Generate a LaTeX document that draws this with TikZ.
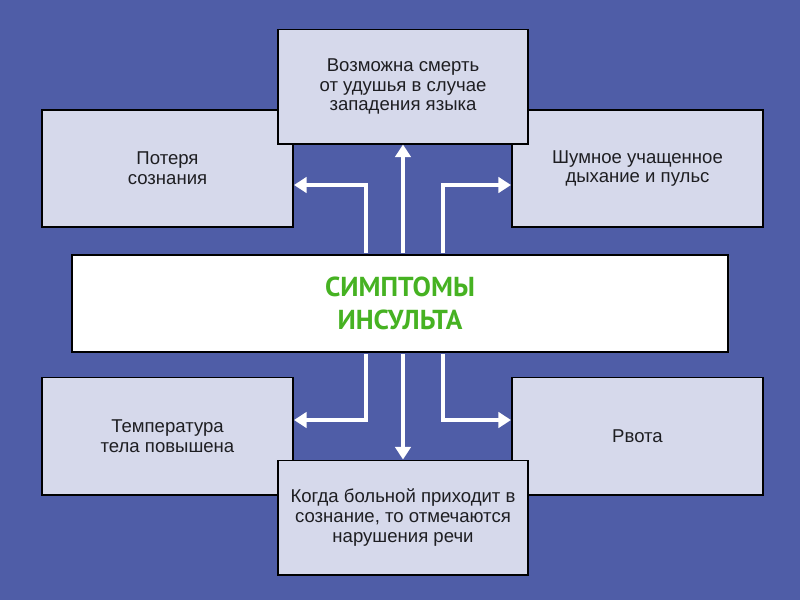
\documentclass[tikz,border=0pt]{standalone}
\usepackage{fontspec}
\setmainfont{Liberation Sans}
\newfontfamily\titlefont{PT Sans}
\usetikzlibrary{arrows.meta}
\usetikzlibrary{shadows}
\definecolor{bgblue}{RGB}{79,93,167}
\definecolor{boxfill}{RGB}{214,217,235}
\definecolor{titlegreen}{RGB}{70,178,34}
\definecolor{textgray}{RGB}{30,30,34}
\tikzstyle{symbox}=[draw=black, line width=1.4pt, fill=boxfill, align=center, text=textgray, inner sep=2pt,
  font=\fontsize{13.2}{14}\selectfont, drop shadow={shadow xshift=1pt, shadow yshift=-1pt, opacity=0.4}]
\tikzstyle{sidebox}=[symbox, minimum width=6.275cm, minimum height=2.925cm]
\tikzstyle{midbox}=[symbox, minimum width=6.25cm, minimum height=2.85cm]
\tikzstyle{mainbox}=[draw=black, line width=1.4pt, fill=white, minimum width=16.4cm, minimum height=2.425cm,
  align=center, text=titlegreen, font=\titlefont\bfseries\fontsize{19.5}{23}\selectfont,
  drop shadow={shadow xshift=1pt, shadow yshift=-1pt, opacity=0.4}]
\tikzstyle{flowarrow}=[draw=white, line width=3.5pt, -{Triangle[width=11pt,length=9pt]}]

\begin{document}
\begin{tikzpicture}[x=0.025cm, y=-0.025cm]
    % background
    \fill[bgblue] (0,0) rectangle (800,600);
    \useasboundingbox (0,0) rectangle (800,600);

    % side boxes first, the middle ones lie over them
    \node[sidebox] (loss) at (167.5,168.5) {Потеря\\сознания};
    \node[sidebox] (breath) at (637.5,168.5) {Шумное учащенное\\дыхание и пульс};
    \node[sidebox] (fever) at (167.5,436) {Температура\\тела повышена};
    \node[sidebox] (vomit) at (637.5,436) {Рвота};
    \node[midbox] (choke) at (403,86.5) {Возможна смерть\\от удушья в случае\\западения языка};
    \node[midbox] (speech) at (403,517.5) {Когда больной приходит в\\сознание, то отмечаются\\нарушения речи};

    \node[mainbox] (main) at (400,303.5) {СИМПТОМЫ\\ИНСУЛЬТА};

    % elbows of the arrows
    \coordinate (ul) at (366,185);
    \coordinate (ur) at (443,185);
    \coordinate (dl) at (366,420);
    \coordinate (dr) at (443,420);

    % arrows from the title box
    \draw[flowarrow, shorten <=0.7pt] (main.north -| choke) -- (choke.south);
    \draw[flowarrow, shorten <=0.7pt] (main.south -| speech) -- (speech.north);
    \foreach \turn/\dest/\side in {ul/loss/east, ur/breath/west}
        \draw[flowarrow, shorten <=0.7pt] (main.north -| \turn) |- (\dest.\side |- \turn);
    \foreach \turn/\dest/\side in {dl/fever/east, dr/vomit/west}
        \draw[flowarrow, shorten <=0.7pt] (main.south -| \turn) |- (\dest.\side |- \turn);
\end{tikzpicture}
\end{document}
